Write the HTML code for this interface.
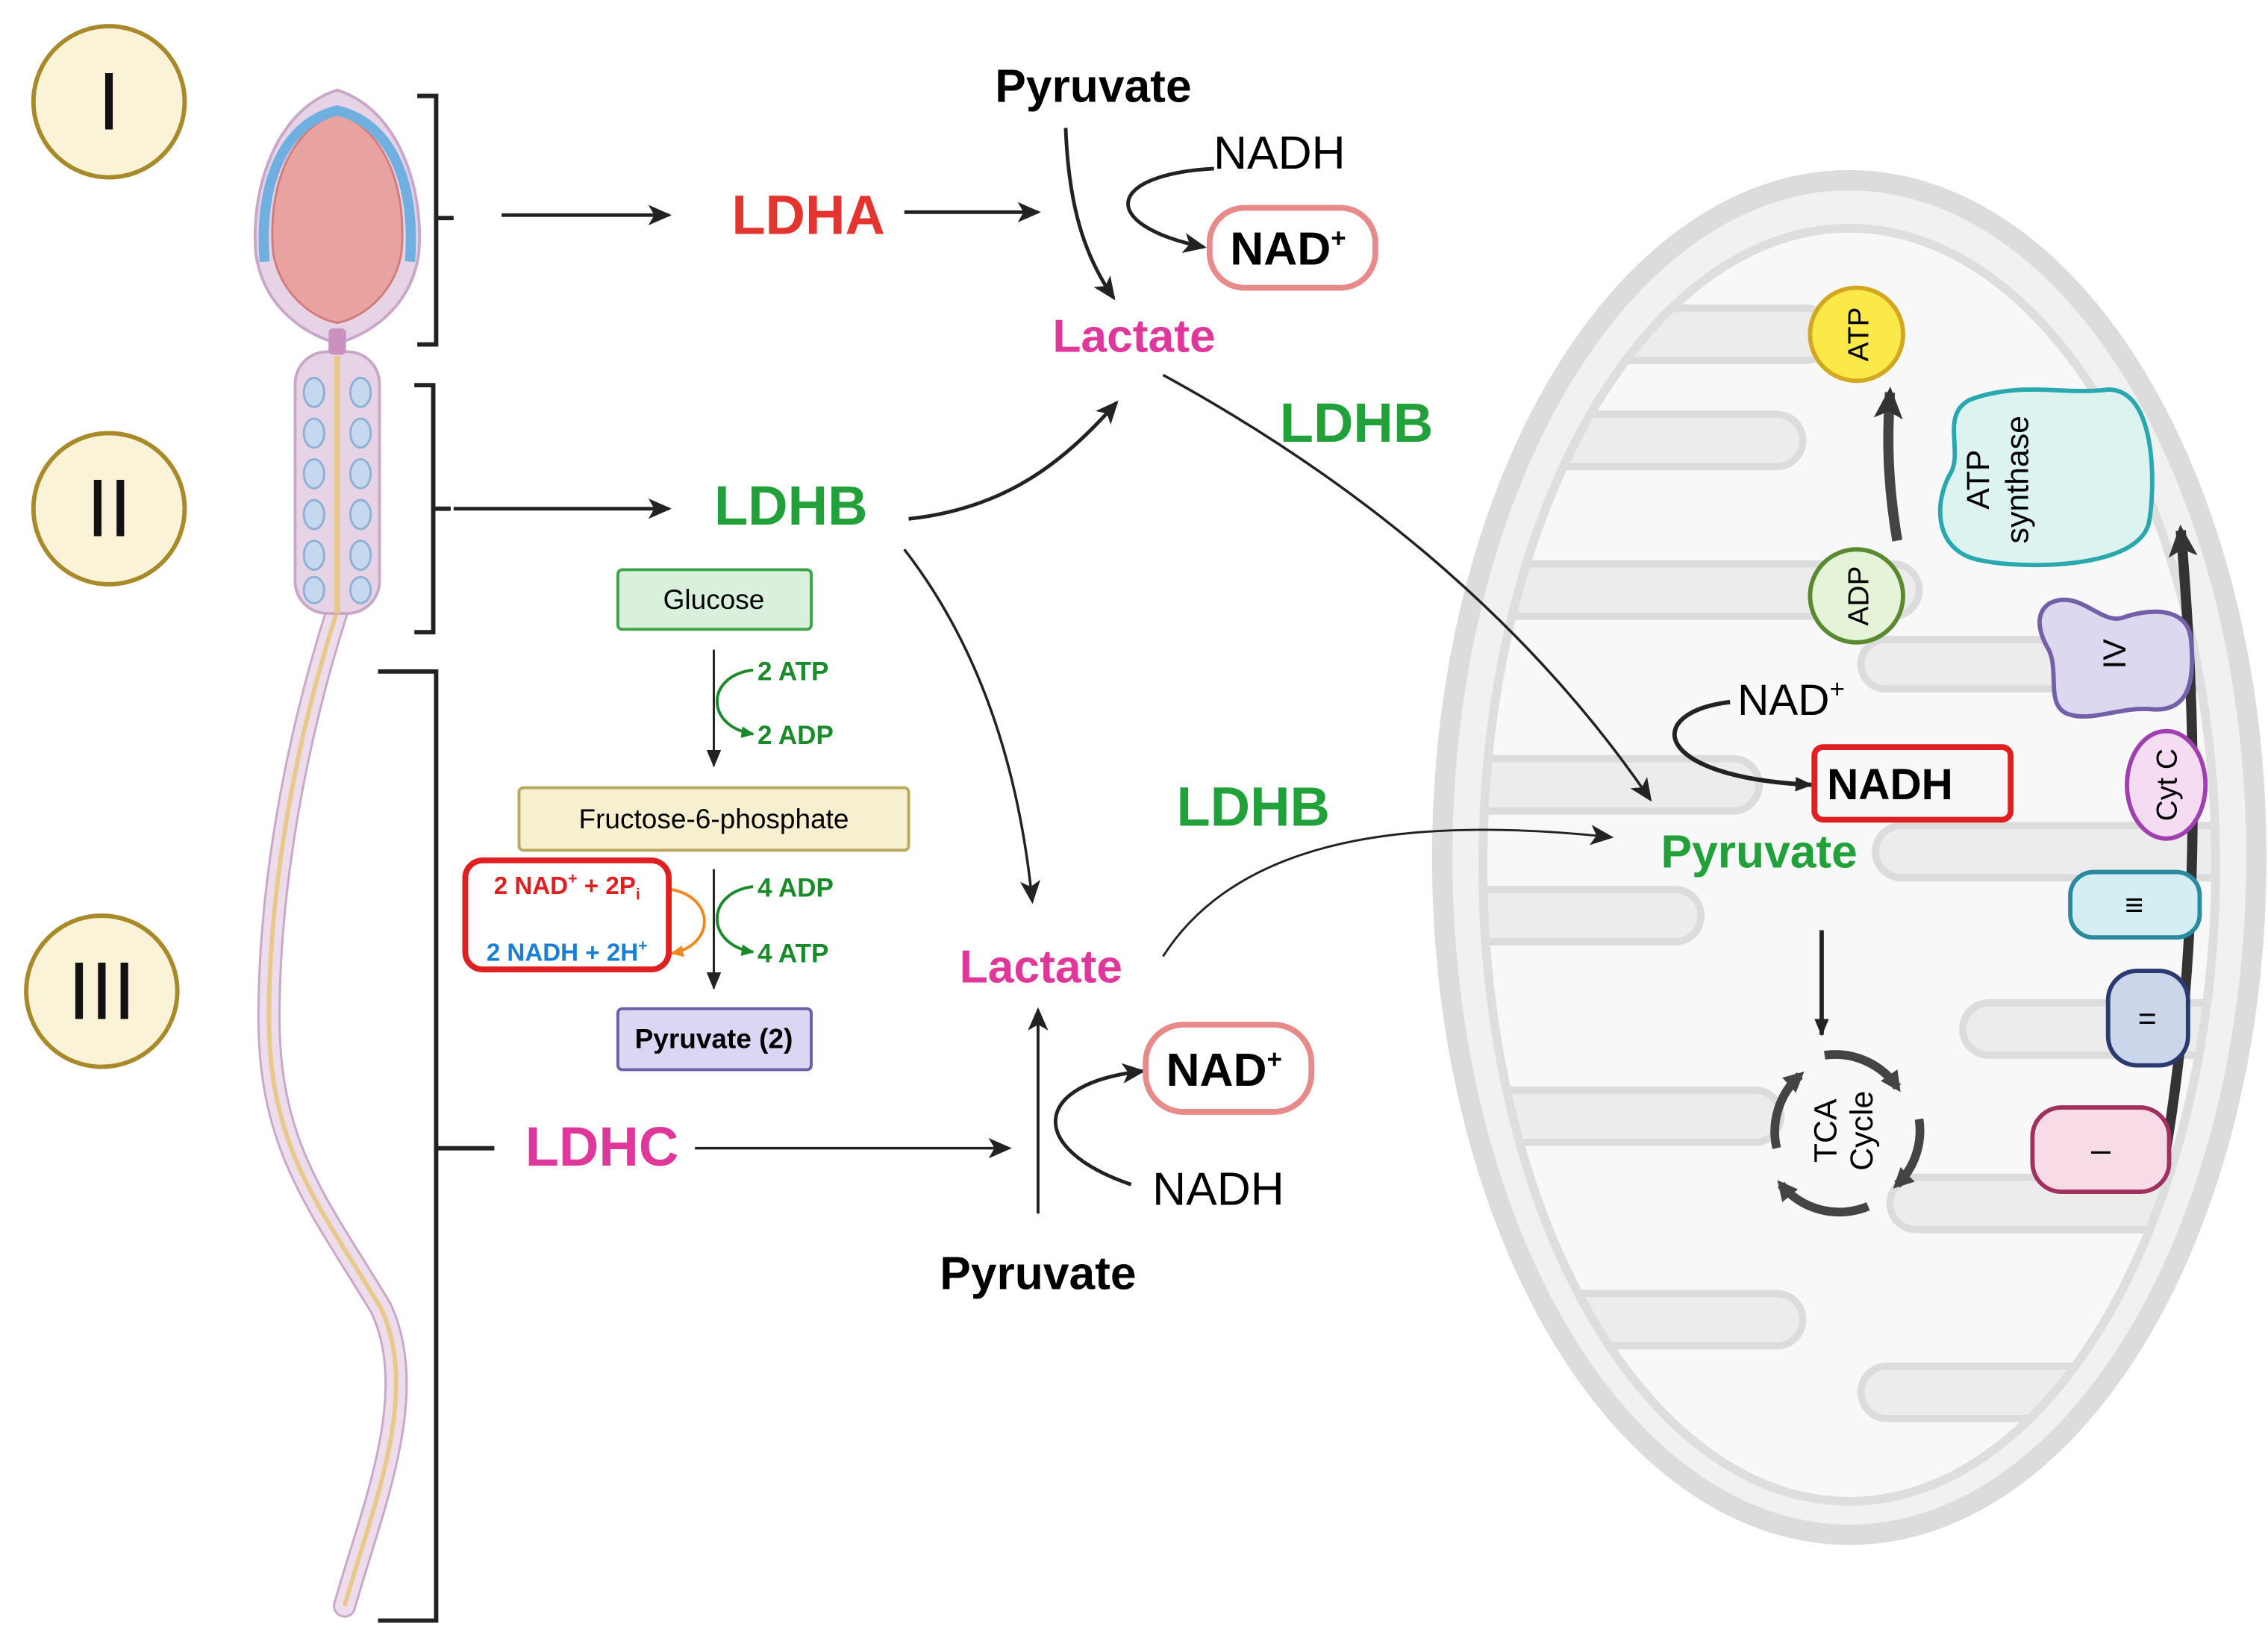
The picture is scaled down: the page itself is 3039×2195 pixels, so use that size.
<!DOCTYPE html>
<html><head><meta charset="utf-8"><style>
html,body{margin:0;padding:0;background:#fff}
svg{display:block}
text{font-family:"Liberation Sans",Arial,sans-serif}
</style></head><body>
<svg width="3039" height="2195" viewBox="0 0 1560 1127" preserveAspectRatio="none" xmlns="http://www.w3.org/2000/svg">
<defs>
<marker id="a" markerWidth="16" markerHeight="14" refX="14" refY="7" orient="auto" markerUnits="userSpaceOnUse"><path d="M0,0 L16,7 L0,14 L4,7z" fill="#222"/></marker>
<marker id="s" markerWidth="12" markerHeight="10" refX="11" refY="5" orient="auto" markerUnits="userSpaceOnUse"><path d="M0,0 L12,5 L0,10z" fill="#222"/></marker>
<marker id="b" markerWidth="22" markerHeight="20" refX="18" refY="10" orient="auto" markerUnits="userSpaceOnUse"><path d="M0,0 L22,10 L0,20 L5,10z" fill="#333"/></marker>
<marker id="t" markerWidth="14" markerHeight="14" refX="10" refY="7" orient="auto" markerUnits="userSpaceOnUse"><path d="M0,0 L14,7 L0,14z" fill="#444"/></marker>
<marker id="g" markerWidth="9" markerHeight="8" refX="8" refY="4" orient="auto" markerUnits="userSpaceOnUse"><path d="M0,0 L9,4 L0,8z" fill="#1a8a2a"/></marker>
<marker id="o" markerWidth="9" markerHeight="8" refX="8" refY="4" orient="auto" markerUnits="userSpaceOnUse"><path d="M0,0 L9,4 L0,8z" fill="#f08a20"/></marker>
<clipPath id="mc"><ellipse cx="1272" cy="595" rx="250" ry="436"/></clipPath>
</defs>
<rect width="1560" height="1127" fill="#fff"/>

<!-- roman circles -->
<g fill="#fbf3d7" stroke="#a88a2a" stroke-width="3">
<circle cx="75" cy="70" r="52"/><circle cx="75" cy="350" r="52"/><circle cx="70" cy="682" r="52"/></g>
<g font-family="Liberation Serif" font-size="56" text-anchor="middle" fill="#111">
<text x="75" y="89">I</text><text x="75" y="369">II</text><text x="70" y="701">III</text></g>

<!-- sperm -->
<path d="M232,420 C200,520 185,620 185,700 C185,790 220,830 262,900 C290,960 255,1040 237,1105" fill="none" stroke="#c9a7c9" stroke-width="16" stroke-linecap="round"/>
<path d="M232,420 C200,520 185,620 185,700 C185,790 220,830 262,900 C290,960 255,1040 237,1105" fill="none" stroke="#ecdcec" stroke-width="13" stroke-linecap="round"/>
<path d="M232,420 C200,520 185,620 185,700 C185,790 220,830 262,900 C290,960 255,1040 237,1105" fill="none" stroke="#e8c98a" stroke-width="3"/>
<rect x="203" y="242" width="58" height="180" rx="22" fill="#e6d3e6" stroke="#c9a7c9" stroke-width="2"/>
<line x1="232" y1="245" x2="232" y2="422" stroke="#e8c98a" stroke-width="4"/>
<g fill="#c6d8ee" stroke="#8fb0d6" stroke-width="1.5">
<ellipse cx="216" cy="270" rx="7" ry="10"/><ellipse cx="248" cy="270" rx="7" ry="10"/>
<ellipse cx="216" cy="298" rx="7" ry="10"/><ellipse cx="248" cy="298" rx="7" ry="10"/>
<ellipse cx="216" cy="326" rx="7" ry="10"/><ellipse cx="248" cy="326" rx="7" ry="10"/>
<ellipse cx="216" cy="354" rx="7" ry="10"/><ellipse cx="248" cy="354" rx="7" ry="10"/>
<ellipse cx="216" cy="382" rx="7" ry="10"/><ellipse cx="248" cy="382" rx="7" ry="10"/>
<ellipse cx="216" cy="406" rx="7" ry="9"/><ellipse cx="248" cy="406" rx="7" ry="9"/></g>
<path d="M232,62 C190,75 172,130 176,175 C182,215 215,232 232,236 C249,232 282,215 288,175 C292,130 274,75 232,62z" fill="#e6d3e6" stroke="#c9a7c9" stroke-width="2"/>
<path d="M232,78 C196,90 184,135 188,175 C194,205 218,220 232,222 C246,220 270,205 276,175 C280,135 268,90 232,78z" fill="#e8a3a0" stroke="#d07c7c" stroke-width="1.5"/>
<path d="M182,180 C178,125 195,85 232,76 C269,85 286,125 282,180" fill="none" stroke="#6fb0e0" stroke-width="7"/>
<rect x="226" y="226" width="12" height="18" rx="3" fill="#c990c0"/>

<!-- brackets -->
<g fill="none" stroke="#222" stroke-width="3">
<path d="M287,66 H300 V237 H287 M300,150 H312"/>
<path d="M285,265 H298 V435 H285 M298,350 H310"/>
<path d="M260,462 H300 V1115 H260 M300,790 H340"/></g>

<!-- mitochondrion -->
<ellipse cx="1272" cy="590" rx="280" ry="466" fill="#f1f1f1" stroke="#dcdcdc" stroke-width="14"/>
<ellipse cx="1272" cy="595" rx="252" ry="438" fill="#f8f8f8" stroke="#dedede" stroke-width="6"/>
<g clip-path="url(#mc)" fill="#ececec" stroke="#dcdcdc" stroke-width="5">
<rect x="1000" y="212" width="260" height="36" rx="18"/>
<rect x="990" y="285" width="250" height="36" rx="18"/>
<rect x="980" y="388" width="340" height="36" rx="18"/>
<rect x="1280" y="440" width="300" height="34" rx="17"/>
<rect x="980" y="522" width="230" height="36" rx="18"/>
<rect x="1290" y="568" width="300" height="36" rx="18"/>
<rect x="980" y="612" width="190" height="36" rx="18"/>
<rect x="1350" y="690" width="230" height="36" rx="18"/>
<rect x="980" y="750" width="245" height="36" rx="18"/>
<rect x="1300" y="810" width="280" height="36" rx="18"/>
<rect x="980" y="890" width="260" height="36" rx="18"/>
<rect x="1280" y="940" width="300" height="36" rx="18"/></g>
<ellipse cx="1272" cy="595" rx="252" ry="438" fill="none" stroke="#dedede" stroke-width="6"/>

<!-- complexes -->
<path d="M1490,790 C1515,640 1510,480 1500,365" fill="none" stroke="#333" stroke-width="7" marker-end="url(#b)"/>
<path d="M1305,372 C1298,330 1298,300 1300,270" fill="none" stroke="#444" stroke-width="7" marker-end="url(#b)"/>
<circle cx="1277" cy="230" r="32" fill="#fbe94a" stroke="#d2a820" stroke-width="3"/>
<text transform="translate(1285,230) rotate(-90)" font-size="20" text-anchor="middle">ATP</text>
<circle cx="1277" cy="410" r="32" fill="#e5f3d8" stroke="#5a8a30" stroke-width="3"/>
<text transform="translate(1285,410) rotate(-90)" font-size="20" text-anchor="middle">ADP</text>
<path d="M1355,275 C1390,262 1420,272 1450,268 C1485,268 1482,340 1478,360 C1470,392 1390,392 1360,385 C1330,378 1330,345 1342,325 C1350,310 1335,285 1355,275z" fill="#dcf3ef" stroke="#2aa8b0" stroke-width="3"/>
<text transform="translate(1368,330) rotate(-90)" font-size="22" text-anchor="middle">ATP</text>
<text transform="translate(1395,330) rotate(-90)" font-size="22" text-anchor="middle">synthase</text>
<path d="M1410,415 C1430,405 1445,430 1460,425 C1480,418 1505,418 1507,440 C1510,470 1505,490 1480,488 C1460,486 1440,496 1425,492 C1405,488 1418,460 1408,445 C1400,430 1402,420 1410,415z" fill="#dcd8f0" stroke="#7460a8" stroke-width="3"/>
<text transform="translate(1462,450) rotate(-90)" font-size="22" text-anchor="middle">IV</text>
<ellipse cx="1490" cy="540" rx="27" ry="37" fill="#f6dcf3" stroke="#a040b0" stroke-width="3"/>
<text transform="translate(1497,540) rotate(-90)" font-size="20" text-anchor="middle">Cyt C</text>
<rect x="1424" y="600" width="89" height="45" rx="16" fill="#d4eef4" stroke="#2a8aa0" stroke-width="3"/>
<text x="1468" y="630" font-size="22" text-anchor="middle" font-family="Liberation Serif">≡</text>
<rect x="1450" y="668" width="55" height="65" rx="20" fill="#ccd6ea" stroke="#2a3a70" stroke-width="3"/>
<text x="1477" y="708" font-size="22" text-anchor="middle">=</text>
<rect x="1398" y="762" width="94" height="58" rx="20" fill="#f7dbe6" stroke="#a03060" stroke-width="3"/>
<text x="1445" y="799" font-size="24" text-anchor="middle">–</text>

<text x="1232" y="492" font-size="30" text-anchor="middle">NAD<tspan font-size="18" dy="-12">+</tspan></text>
<path d="M1190,483 C1130,490 1135,535 1246,540" fill="none" stroke="#222" stroke-width="3" marker-end="url(#s)"/>
<rect x="1248" y="514" width="135" height="50" rx="6" fill="none" stroke="#e02020" stroke-width="4"/>
<text x="1300" y="550" font-size="30" font-weight="bold" text-anchor="middle">NADH</text>
<text x="1210" y="597" font-size="32" font-weight="bold" fill="#22a03a" text-anchor="middle">Pyruvate</text>
<line x1="1253" y1="640" x2="1253" y2="712" stroke="#222" stroke-width="3" marker-end="url(#s)"/>
<g fill="none" stroke="#444" stroke-width="6">
<path d="M1222,790 A52,52 0 0 1 1238,740" marker-end="url(#t)"/>
<path d="M1255,726 A52,52 0 0 1 1305,748" marker-end="url(#t)"/>
<path d="M1320,770 A52,52 0 0 1 1305,815" marker-end="url(#t)"/>
<path d="M1285,830 A52,52 0 0 1 1225,815" marker-end="url(#t)"/></g>
<text transform="translate(1263,778) rotate(-90)" font-size="22" text-anchor="middle">TCA</text>
<text transform="translate(1288,778) rotate(-90)" font-size="22" text-anchor="middle">Cycle</text>

<!-- main arrows -->
<g fill="none" stroke="#222" stroke-width="2.5">
<line x1="345" y1="148" x2="460" y2="148" marker-end="url(#a)"/>
<line x1="622" y1="146" x2="714" y2="146" marker-end="url(#a)"/>
<line x1="312" y1="350" x2="460" y2="350" marker-end="url(#a)"/>
<path d="M733,88 C735,140 745,175 766,205" marker-end="url(#a)"/>
<path d="M835,116 C760,120 755,155 828,170" marker-end="url(#a)"/>
<path d="M625,357 C690,350 730,320 768,277" marker-end="url(#a)"/>
<path d="M800,258 C950,340 1060,440 1135,550" stroke-width="1.8" marker-end="url(#a)"/>
<path d="M622,378 C670,440 700,520 710,620" stroke-width="1.8" marker-end="url(#a)"/>
<path d="M800,658 C850,580 960,560 1108,576" stroke-width="1.5" marker-end="url(#a)"/>
<line x1="478" y1="790" x2="694" y2="790" stroke-width="1.8" marker-end="url(#a)"/>
<line x1="714" y1="835" x2="714" y2="695" stroke-width="2" marker-end="url(#a)"/>
<path d="M778,815 C705,790 710,745 786,737" marker-end="url(#a)"/></g>

<!-- labels -->
<g font-weight="bold" text-anchor="middle">
<text x="752" y="70" font-size="32">Pyruvate</text>
<text x="780" y="242" font-size="32" fill="#e0379b">Lactate</text>
<text x="556" y="161" font-size="38" fill="#e3342f">LDHA</text>
<text x="544" y="361" font-size="38" fill="#22a03a">LDHB</text>
<text x="933" y="304" font-size="38" fill="#22a03a">LDHB</text>
<text x="862" y="568" font-size="38" fill="#22a03a">LDHB</text>
<text x="716" y="676" font-size="32" fill="#e0379b">Lactate</text>
<text x="414" y="802" font-size="38" fill="#e0379b">LDHC</text>
<text x="714" y="887" font-size="32">Pyruvate</text></g>
<text x="880" y="116" font-size="32" text-anchor="middle">NADH</text>
<text x="838" y="829" font-size="32" text-anchor="middle">NADH</text>
<rect x="832" y="143" width="114" height="55" rx="24" fill="#fff" stroke="#e98a8a" stroke-width="4"/>
<text x="886" y="182" font-size="32" font-weight="bold" text-anchor="middle">NAD<tspan font-size="18" dy="-12">+</tspan></text>
<rect x="788" y="705" width="114" height="60" rx="26" fill="#fff" stroke="#e98a8a" stroke-width="4"/>
<text x="842" y="747" font-size="32" font-weight="bold" text-anchor="middle">NAD<tspan font-size="18" dy="-12">+</tspan></text>

<!-- glycolysis -->
<rect x="425" y="392" width="133" height="41" rx="3" fill="#d9f0dc" stroke="#3da44a" stroke-width="2"/>
<text x="491" y="419" font-size="19" text-anchor="middle">Glucose</text>
<rect x="357" y="542" width="268" height="43" rx="3" fill="#f7f0d0" stroke="#bba860" stroke-width="2"/>
<text x="491" y="570" font-size="19" text-anchor="middle">Fructose-6-phosphate</text>
<rect x="425" y="694" width="133" height="42" rx="3" fill="#dcd6f3" stroke="#6a60a8" stroke-width="2"/>
<text x="491" y="721" font-size="19" font-weight="bold" text-anchor="middle">Pyruvate (2)</text>
<g fill="none" stroke="#222" stroke-width="1.5">
<line x1="491" y1="447" x2="491" y2="527" marker-end="url(#s)"/>
<line x1="491" y1="598" x2="491" y2="680" marker-end="url(#s)"/></g>
<g fill="none" stroke="#1a8a2a" stroke-width="2">
<path d="M518,461 C485,465 485,500 518,505" marker-end="url(#g)"/>
<path d="M518,610 C485,614 485,650 518,655" marker-end="url(#g)"/></g>
<path d="M462,612 C492,618 492,650 462,656" fill="none" stroke="#f08a20" stroke-width="2" marker-end="url(#o)"/>
<g font-size="18" font-weight="bold" fill="#1a8a2a">
<text x="521" y="468">2 ATP</text><text x="521" y="512">2 ADP</text>
<text x="521" y="617">4 ADP</text><text x="521" y="662">4 ATP</text></g>
<rect x="320" y="592" width="140" height="75" rx="12" fill="none" stroke="#e02020" stroke-width="4"/>
<text x="390" y="615" font-size="17" font-weight="bold" fill="#e02020" text-anchor="middle">2 NAD<tspan font-size="11" dy="-7">+</tspan><tspan dy="7"> + 2P</tspan><tspan font-size="11" dy="4">i</tspan></text>
<text x="390" y="661" font-size="17" font-weight="bold" fill="#1a7fd0" text-anchor="middle">2 NADH + 2H<tspan font-size="11" dy="-7">+</tspan></text>
</svg>
</body></html>
